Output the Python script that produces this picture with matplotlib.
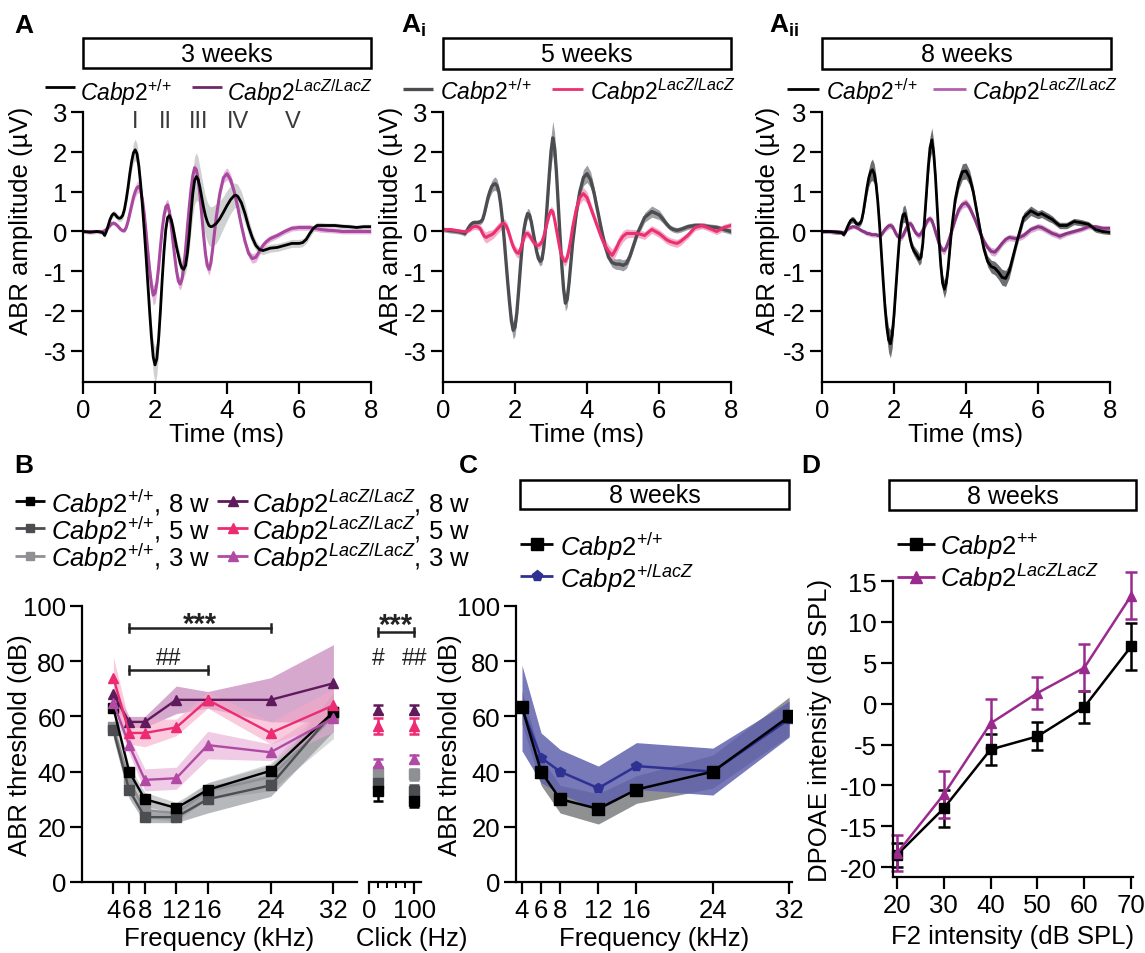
import numpy as np
import matplotlib
matplotlib.use('Agg')
import matplotlib.pyplot as plt
from matplotlib.patches import Rectangle

plt.rcParams['font.family'] = ['Liberation Sans', 'DejaVu Sans']
plt.rcParams['mathtext.fontset'] = 'custom'
plt.rcParams['mathtext.rm'] = 'Liberation Sans'
plt.rcParams['mathtext.it'] = 'Liberation Sans:italic'
plt.rcParams['mathtext.bf'] = 'Liberation Sans:bold'
plt.rcParams['axes.unicode_minus'] = False

# ---------------- ABR waveforms (µV) ----------------
t_ms = [0.0, 0.2, 0.4, 0.55,
        0.6, 0.65, 0.7, 0.75, 0.8, 0.85, 0.9, 0.95, 1.0, 1.05, 1.1, 1.15,
        1.2, 1.25, 1.3, 1.35, 1.4, 1.45, 1.5, 1.55, 1.6, 1.65, 1.7, 1.75,
        1.8, 1.85, 1.9, 1.95, 2.0, 2.05, 2.1, 2.15, 2.2, 2.25, 2.3, 2.35,
        2.4, 2.45, 2.5, 2.55, 2.6, 2.65, 2.7, 2.75, 2.8, 2.85, 2.9, 2.95,
        3.0, 3.05, 3.1, 3.15, 3.2, 3.25, 3.3, 3.35, 3.4, 3.45, 3.5, 3.55,
        3.6, 3.7, 3.8, 3.9, 4.0, 4.1, 4.2, 4.25,
        4.3, 4.4, 4.5, 4.6, 4.7, 4.8, 4.9, 5.0, 5.1, 5.2,
        5.4, 5.6, 5.8, 6.0, 6.1, 6.2, 6.3, 6.4, 6.5, 6.6,
        6.8, 7.0, 7.2, 7.4, 7.6, 7.8, 8.0]

# 3 weeks
wt3_mean = [0.0, -0.02, 0.0, -0.03,
            -0.1, 0.0, 0.15, 0.3, 0.4, 0.45, 0.42, 0.36, 0.33, 0.34, 0.4, 0.55,
            0.8, 1.1, 1.45, 1.75, 1.97, 2.05, 1.95, 1.65, 1.2, 0.65, 0.05, -0.6,
            -1.3, -2.0, -2.65, -3.15, -3.35, -3.2, -2.7, -2.0, -1.2, -0.5, 0.05, 0.35,
            0.4, 0.3, 0.1, -0.15, -0.4, -0.6, -0.8, -0.92, -0.95, -0.85, -0.55, -0.1,
            0.45, 0.95, 1.28, 1.38, 1.3, 1.1, 0.85, 0.6, 0.4, 0.25, 0.15, 0.12,
            0.13, 0.2, 0.32, 0.48, 0.65, 0.8, 0.9, 0.91,
            0.88, 0.72, 0.45, 0.12, -0.15, -0.35, -0.45, -0.48, -0.45, -0.42,
            -0.4, -0.35, -0.3, -0.3, -0.28, -0.2, -0.05, 0.08, 0.15, 0.15,
            0.15, 0.15, 0.13, 0.12, 0.1, 0.12, 0.12]
wt3_sem = [0.05, 0.05, 0.05, 0.05,
           0.06, 0.06, 0.07, 0.08, 0.08, 0.08, 0.08, 0.08, 0.08, 0.08, 0.1, 0.12,
           0.15, 0.18, 0.2, 0.22, 0.25, 0.27, 0.25, 0.22, 0.2, 0.2, 0.2, 0.22,
           0.25, 0.3, 0.35, 0.4, 0.45, 0.42, 0.35, 0.3, 0.22, 0.15, 0.12, 0.12,
           0.12, 0.12, 0.12, 0.15, 0.18, 0.2, 0.2, 0.2, 0.2, 0.2, 0.25, 0.35,
           0.45, 0.55, 0.6, 0.6, 0.55, 0.5, 0.5, 0.5, 0.5, 0.5, 0.5, 0.5,
           0.5, 0.5, 0.45, 0.4, 0.38, 0.35, 0.32, 0.3,
           0.3, 0.28, 0.25, 0.2, 0.15, 0.12, 0.1, 0.1, 0.1, 0.1,
           0.1, 0.1, 0.1, 0.1, 0.1, 0.1, 0.1, 0.08, 0.08, 0.08,
           0.06, 0.06, 0.06, 0.06, 0.06, 0.06, 0.06]
ko3_mean = [0.0, 0.0, 0.0, 0.0,
            0.02, 0.05, 0.1, 0.15, 0.2, 0.21, 0.19, 0.15, 0.1, 0.05, 0.02, 0.02,
            0.1, 0.25, 0.45, 0.65, 0.85, 1.0, 1.1, 1.13, 1.05, 0.8, 0.45, 0.0,
            -0.5, -0.95, -1.35, -1.6, -1.55, -1.3, -0.9, -0.4, 0.05, 0.4, 0.62, 0.67,
            0.5, 0.15, -0.25, -0.65, -1.0, -1.25, -1.32, -1.2, -0.9, -0.45, 0.1, 0.6,
            1.05, 1.4, 1.6, 1.55, 1.3, 0.9, 0.4, -0.1, -0.55, -0.85, -0.95, -0.8,
            -0.45, 0.35, 0.95, 1.35, 1.45, 1.3, 1.0, 0.8,
            0.6, 0.15, -0.25, -0.55, -0.68, -0.65, -0.5, -0.35, -0.25, -0.18,
            -0.1, 0.0, 0.08, 0.1, 0.1, 0.1, 0.1, 0.08, 0.07, 0.05,
            0.03, 0.02, 0.0, 0.0, 0.0, 0.0, 0.0]
ko3_sem = [0.04, 0.04, 0.04, 0.04,
           0.05, 0.05, 0.05, 0.05, 0.05, 0.05, 0.05, 0.05, 0.05, 0.05, 0.05, 0.05,
           0.06, 0.08, 0.1, 0.12, 0.13, 0.14, 0.15, 0.15, 0.14, 0.12, 0.12, 0.12,
           0.14, 0.18, 0.22, 0.25, 0.25, 0.22, 0.18, 0.14, 0.12, 0.12, 0.15, 0.15,
           0.15, 0.12, 0.12, 0.12, 0.14, 0.15, 0.15, 0.15, 0.12, 0.12, 0.12, 0.12,
           0.12, 0.12, 0.12, 0.12, 0.12, 0.12, 0.12, 0.12, 0.14, 0.15, 0.15, 0.15,
           0.12, 0.12, 0.12, 0.14, 0.15, 0.14, 0.12, 0.12,
           0.1, 0.1, 0.1, 0.1, 0.12, 0.12, 0.1, 0.1, 0.08, 0.08,
           0.07, 0.07, 0.07, 0.07, 0.07, 0.07, 0.07, 0.07, 0.07, 0.07,
           0.06, 0.06, 0.06, 0.06, 0.06, 0.06, 0.06]

# 5 weeks
wt5_mean = [0.05, 0.02, 0.0, -0.03,
            -0.05, 0.0, 0.08, 0.15, 0.2, 0.22, 0.22, 0.22, 0.23, 0.25, 0.3, 0.45,
            0.65, 0.85, 1.0, 1.12, 1.18, 1.2, 1.15, 1.0, 0.7, 0.3, -0.2, -0.75,
            -1.3, -1.8, -2.25, -2.48, -2.4, -2.05, -1.5, -0.9, -0.35, 0.05, 0.3, 0.45,
            0.42, 0.25, 0.0, -0.25, -0.5, -0.68, -0.75, -0.7, -0.4, 0.1, 0.75, 1.4,
            2.0, 2.35, 2.1, 1.5, 0.7, -0.1, -0.85, -1.45, -1.8, -1.7, -1.3, -0.8,
            -0.3, 0.45, 1.0, 1.35, 1.45, 1.3, 0.95, 0.72,
            0.5, 0.05, -0.35, -0.65, -0.78, -0.82, -0.82, -0.85, -0.8, -0.6,
            -0.05, 0.35, 0.5, 0.42, 0.32, 0.2, 0.1, 0.05, 0.03, 0.05,
            0.12, 0.15, 0.15, 0.12, 0.1, 0.05, 0.0]
wt5_sem = [0.06, 0.06, 0.06, 0.06,
           0.07, 0.07, 0.07, 0.07, 0.07, 0.07, 0.07, 0.07, 0.07, 0.07, 0.07, 0.07,
           0.1, 0.12, 0.14, 0.15, 0.16, 0.17, 0.16, 0.14, 0.12, 0.12, 0.12, 0.14,
           0.15, 0.17, 0.2, 0.22, 0.22, 0.2, 0.16, 0.13, 0.12, 0.12, 0.12, 0.13,
           0.13, 0.12, 0.1, 0.1, 0.1, 0.12, 0.12, 0.12, 0.12, 0.15, 0.2, 0.3,
           0.38, 0.42, 0.38, 0.3, 0.22, 0.15, 0.15, 0.17, 0.2, 0.2, 0.18, 0.15,
           0.12, 0.15, 0.18, 0.2, 0.22, 0.2, 0.16, 0.14,
           0.12, 0.1, 0.1, 0.1, 0.12, 0.13, 0.14, 0.14, 0.12, 0.1,
           0.1, 0.12, 0.14, 0.12, 0.1, 0.08, 0.07, 0.07, 0.07, 0.07,
           0.07, 0.07, 0.07, 0.07, 0.07, 0.07, 0.07]
ko5_mean = [0.05, 0.05, 0.02, 0.0,
            0.0, 0.0, 0.02, 0.05, 0.1, 0.12, 0.13, 0.12, 0.1, 0.05, -0.05, -0.12,
            -0.15, -0.12, -0.1, -0.08, -0.05, 0.0, 0.05, 0.1, 0.15, 0.2, 0.2, 0.15,
            0.05, -0.1, -0.25, -0.38, -0.47, -0.53, -0.55, -0.45, -0.3, -0.15, -0.06, -0.05,
            -0.1, -0.17, -0.25, -0.3, -0.35, -0.35, -0.32, -0.25, -0.12, 0.05, 0.25, 0.42,
            0.53, 0.5, 0.3, 0.05, -0.2, -0.45, -0.62, -0.72, -0.75, -0.65, -0.45, -0.2,
            0.1, 0.55, 0.85, 0.95, 0.85, 0.6, 0.35, 0.22,
            0.1, -0.15, -0.35, -0.5, -0.6, -0.45, -0.25, -0.12, -0.05, -0.05,
            -0.05, -0.1, 0.05, -0.05, -0.12, -0.2, -0.25, -0.28, -0.3, -0.25,
            -0.1, 0.1, 0.15, 0.08, 0.0, 0.1, 0.15]
ko5_sem = [0.05, 0.05, 0.05, 0.05,
           0.05, 0.05, 0.05, 0.06, 0.07, 0.08, 0.08, 0.08, 0.08, 0.1, 0.12, 0.13,
           0.14, 0.14, 0.13, 0.12, 0.12, 0.12, 0.12, 0.12, 0.12, 0.12, 0.12, 0.12,
           0.12, 0.12, 0.12, 0.12, 0.12, 0.12, 0.12, 0.12, 0.1, 0.1, 0.1, 0.1,
           0.1, 0.1, 0.1, 0.1, 0.1, 0.1, 0.1, 0.1, 0.1, 0.1, 0.1, 0.1,
           0.1, 0.1, 0.1, 0.1, 0.1, 0.1, 0.1, 0.12, 0.12, 0.12, 0.12, 0.12,
           0.12, 0.14, 0.15, 0.15, 0.15, 0.14, 0.12, 0.12,
           0.12, 0.14, 0.16, 0.16, 0.16, 0.15, 0.15, 0.14, 0.12, 0.1,
           0.1, 0.1, 0.1, 0.1, 0.1, 0.1, 0.1, 0.1, 0.1, 0.1,
           0.08, 0.08, 0.08, 0.08, 0.08, 0.08, 0.08]

# 8 weeks
wt8_mean = [0.0, 0.0, -0.02, -0.03,
            -0.08, -0.02, 0.1, 0.2, 0.28, 0.3, 0.27, 0.2, 0.18, 0.2, 0.28, 0.5,
            0.8, 1.1, 1.35, 1.5, 1.55, 1.45, 1.2, 0.75, 0.15, -0.55, -1.25, -1.9,
            -2.4, -2.72, -2.82, -2.6, -2.1, -1.45, -0.8, -0.2, 0.2, 0.42, 0.45, 0.3,
            0.05, -0.2, -0.38, -0.48, -0.55, -0.62, -0.7, -0.65, -0.3, 0.3, 0.95, 1.6,
            2.1, 2.3, 2.0, 1.4, 0.6, -0.2, -0.85, -1.3, -1.45, -1.3, -0.95, -0.45,
            0.05, 0.8, 1.25, 1.5, 1.52, 1.35, 1.0, 0.75,
            0.5, 0.0, -0.45, -0.75, -0.88, -0.92, -1.02, -1.15, -1.18, -1.0,
            -0.3, 0.35, 0.52, 0.42, 0.45, 0.4, 0.35, 0.3, 0.22, 0.15,
            0.15, 0.25, 0.22, 0.18, 0.05, 0.0, -0.02]
wt8_sem = [0.05, 0.05, 0.05, 0.05,
           0.05, 0.05, 0.06, 0.07, 0.08, 0.08, 0.08, 0.07, 0.07, 0.07, 0.08, 0.1,
           0.14, 0.18, 0.22, 0.25, 0.27, 0.25, 0.22, 0.18, 0.16, 0.16, 0.18, 0.22,
           0.28, 0.32, 0.35, 0.32, 0.25, 0.2, 0.17, 0.16, 0.17, 0.2, 0.22, 0.2,
           0.16, 0.13, 0.12, 0.12, 0.13, 0.14, 0.15, 0.14, 0.13, 0.15, 0.2, 0.25,
           0.28, 0.3, 0.28, 0.22, 0.17, 0.15, 0.17, 0.2, 0.22, 0.2, 0.17, 0.14,
           0.12, 0.15, 0.18, 0.2, 0.2, 0.18, 0.15, 0.14,
           0.13, 0.12, 0.12, 0.14, 0.16, 0.17, 0.18, 0.2, 0.2, 0.17,
           0.12, 0.12, 0.12, 0.1, 0.1, 0.1, 0.1, 0.09, 0.08, 0.08,
           0.08, 0.08, 0.08, 0.07, 0.07, 0.06, 0.06]
ko8_mean = [0.0, 0.0, 0.0, -0.02,
            -0.03, 0.0, 0.05, 0.08, 0.1, 0.12, 0.12, 0.1, 0.08, 0.05, 0.02, 0.0,
            -0.02, -0.05, -0.05, -0.07, -0.08, -0.08, -0.08, -0.1, -0.1, -0.08, -0.02, 0.05,
            0.1, 0.14, 0.15, 0.13, 0.05, -0.05, -0.12, -0.15, -0.15, -0.1, 0.0, 0.1,
            0.17, 0.2, 0.15, 0.05, -0.03, -0.08, -0.1, -0.05, 0.03, 0.12, 0.22, 0.3,
            0.32, 0.28, 0.15, 0.0, -0.15, -0.3, -0.4, -0.47, -0.48, -0.4, -0.28, -0.15,
            0.0, 0.3, 0.55, 0.68, 0.72, 0.6, 0.4, 0.3,
            0.18, -0.05, -0.25, -0.4, -0.5, -0.52, -0.42, -0.3, -0.2, -0.15,
            -0.18, -0.1, 0.05, 0.12, 0.1, 0.05, 0.0, -0.05, -0.08, -0.12,
            -0.05, 0.0, 0.05, 0.12, 0.12, 0.08, 0.08]
ko8_sem = [0.05] * 4 + [0.05] * 12 + [0.06] * 12 + [0.08] * 12 + [0.08] * 12 + \
          [0.08, 0.08, 0.08, 0.08, 0.08, 0.08, 0.08, 0.09, 0.1, 0.09, 0.08, 0.08] + \
          [0.08, 0.09, 0.1, 0.1, 0.1, 0.1, 0.09, 0.08] + \
          [0.08, 0.08, 0.08, 0.09, 0.1, 0.1, 0.09, 0.08, 0.08, 0.08] + \
          [0.08] * 10 + [0.06] * 7

wave_labels = ['I', 'II', 'III', 'IV', 'V']
wave_times = [1.44, 2.3, 3.2, 4.3, 5.83]

# ---------------- Thresholds (dB) ----------------
freqs = [4, 6, 8, 12, 16, 24, 32]
thr_wt8 = [63, 40, 30, 26.8, 33.4, 40.3, 61.6]
thr_wt8_sem = [2, 2, 2.5, 2, 2.5, 2, 3]
thr_wt5 = [55, 33.3, 23.5, 23.5, 30, 35, 61.6]
thr_wt5_sem = [3, 3, 2, 2, 5, 4, 7]
thr_wt3 = [56, 37, 26, 25, 33, 38, 60]
thr_wt3_sem = [3, 3, 3, 3, 3, 5, 8]
thr_ko8 = [68, 58, 58, 66, 66, 66, 72]
thr_ko8_sem = [3, 2, 2, 5, 3, 8, 14]
thr_ko5 = [74, 54, 54, 56, 66, 54, 64]
thr_ko5_sem = [7.5, 4, 5, 3, 3, 4, 6]
thr_ko3 = [65, 49.6, 37, 37.6, 49.6, 47, 59.4]
thr_ko3_sem = [3, 3, 4, 4, 5, 3, 5]

click_rate = [20, 100]
click_wt8 = [33, 29.5]
click_wt8_sem = [3.5, 2.3]
click_wt5 = [36, 33]
click_wt5_sem = [2, 2]
click_wt3 = [39.5, 39]
click_wt3_sem = [2, 2]
click_ko8 = [62.5, 62.5]
click_ko8_sem = [1.8, 1.8]
click_ko5 = [56.5, 56.5]
click_ko5_sem = [3, 3]
click_ko3 = [43.2, 44.6]
click_ko3_sem = [1.5, 1.5]

# heterozygous comparison, 8 weeks
thr_c_wt = [63.3, 40, 30, 26.5, 33.5, 40, 60]
thr_c_wt_sem = [6, 5, 5, 5.5, 5, 6, 7]
thr_c_het = [63, 45, 40, 34, 42, 40, 59]
thr_c_het_sem = [15.5, 9, 8, 8, 8.5, 8.5, 6.5]

# ---------------- DPOAE ----------------
f2_level = [20, 30, 40, 50, 60, 70]
dp_wt = [-18.5, -12.8, -5.6, -4.0, -0.4, 7.0]
dp_wt_sem = [1.5, 2.3, 1.9, 1.7, 2.0, 2.9]
dp_ko = [-18.3, -11.1, -2.4, 1.3, 4.4, 13.2]
dp_ko_sem = [2.2, 2.9, 3.0, 2.0, 2.9, 2.9]

# ---------------- figure ----------------
W, H = 1145, 954
fig = plt.figure(figsize=(W / 100, H / 100), dpi=100)
FS = 18.5


def px_axes(l, t, r, b):
    return fig.add_axes([l / W, 1 - b / H, (r - l) / W, (b - t) / H])


def style(ax):
    for s in ['top', 'right']:
        ax.spines[s].set_visible(False)
    for s in ['left', 'bottom']:
        ax.spines[s].set_linewidth(1.6)
    ax.tick_params(width=1.6, length=8.5, labelsize=FS, pad=3)
    ax.patch.set_visible(False)


def band(ax, mean, sem, color, alpha=1.0):
    m = np.array(mean)
    s = np.array(sem)
    ax.fill_between(t_ms, m - s, m + s, color=color, lw=0, alpha=alpha)


abr_axes = []
for (l, r, ylx) in [(83, 371, -0.175), (443, 731, -0.14), (822, 1110, -0.146)]:
    ax = px_axes(l, 113, r, 383)
    style(ax)
    ax.set_xlim(0, 8)
    ax.set_ylim(-3.78, 3)
    ax.set_xticks([0, 2, 4, 6, 8])
    ax.set_yticks([-3, -2, -1, 0, 1, 2, 3])
    ax.set_xlabel('Time (ms)', fontsize=FS)
    ax.xaxis.set_label_coords(0.5, -0.15)
    ax.set_ylabel('ABR amplitude (µV)', fontsize=FS)
    ax.yaxis.set_label_coords(ylx, 0.6)
    abr_axes.append(ax)

# A: 3 weeks
ax = abr_axes[0]
band(ax, wt3_mean, wt3_sem, '#cfd0d0')
band(ax, ko3_mean, ko3_sem, '#e3a9d9', 0.85)
ax.plot(t_ms, ko3_mean, color='#a8489f', lw=2.2)
ax.plot(t_ms, wt3_mean, color='black', lw=2.0)
for lab, tt in zip(wave_labels, wave_times):
    ax.text(tt, 2.77, lab, ha='center', va='center', fontsize=17, color='#3a3a3a')

# Ai: 5 weeks
ax = abr_axes[1]
band(ax, wt5_mean, wt5_sem, '#9d9fa2')
band(ax, ko5_mean, ko5_sem, '#f4a0bf', 0.85)
ax.plot(t_ms, wt5_mean, color='#4b4d51', lw=2.4)
ax.plot(t_ms, ko5_mean, color='#ec2f70', lw=2.2)

# Aii: 8 weeks
ax = abr_axes[2]
band(ax, wt8_mean, wt8_sem, '#6d6e71')
band(ax, ko8_mean, ko8_sem, '#d59fcd', 0.85)
ax.plot(t_ms, ko8_mean, color='#8c3686', lw=2.2)
ax.plot(t_ms, wt8_mean, color='black', lw=2.0)

# B: thresholds across ages
axB = px_axes(82, 607, 357, 883)
style(axB)
axB.set_xlim(0, 35)
axB.set_ylim(0, 100)
axB.set_xticks(freqs)
axB.set_yticks([0, 20, 40, 60, 80, 100])
axB.set_xlabel('Frequency (kHz)', fontsize=FS)
axB.xaxis.set_label_coords(0.5, -0.158)
axB.set_ylabel('ABR threshold (dB)', fontsize=FS)
axB.yaxis.set_label_coords(-0.182, 0.5)

series_B = [
    (thr_wt3, thr_wt3_sem, '#8e9093', '#cfd0d2', 0.8, 's', 6.5),
    (thr_wt5, thr_wt5_sem, '#4b4d51', '#7d7f83', 0.55, 's', 6.5),
    (thr_wt8, thr_wt8_sem, '#000000', '#9fa1a4', 0.5, 's', 6.5),
    (thr_ko8, thr_ko8_sem, '#5e1a5b', '#c98bbd', 0.75, '^', 7.5),
    (thr_ko3, thr_ko3_sem, '#b14aa5', '#e7a9d6', 0.6, '^', 7.5),
    (thr_ko5, thr_ko5_sem, '#ec2b72', '#f5a9c7', 0.6, '^', 7.5),
]
for m, s, col, bcol, a, mk, ms in series_B:
    m = np.array(m)
    s = np.array(s)
    axB.fill_between(freqs, m - s, m + s, color=bcol, alpha=a, lw=0)
for m, s, col, bcol, a, mk, ms in series_B:
    axB.plot(freqs, m, color=col, marker=mk, ms=ms, mec=col, lw=1.7)

SIG = '#222222'


def sig_bar(ax, x0, x1, y):
    ax.plot([x0, x1], [y, y], color=SIG, lw=1.8, clip_on=False)
    for xx in (x0, x1):
        ax.plot([xx, xx], [y - 1.3, y + 1.3], color=SIG, lw=1.8, clip_on=False)


def stars(ax, x, y_center):
    # asterisks sit high in the em box; anchor the baseline below the glyph centre
    ax.text(x, y_center - 5.8, '***', ha='center', va='baseline', fontsize=21,
            fontweight='bold', color=SIG, clip_on=False)


def hashes(ax, x, y, txt):
    ax.text(x, y, txt, ha='center', va='center', fontsize=16.5, color=SIG)


sig_bar(axB, 6, 24, 92)
stars(axB, 15, 96.4)
sig_bar(axB, 6, 16, 76.8)
hashes(axB, 11, 81.2, '##')

# B: click stimuli
axK = px_axes(369, 607, 421, 883)
for s in ['top', 'right', 'left']:
    axK.spines[s].set_visible(False)
axK.spines['bottom'].set_linewidth(1.6)
axK.patch.set_visible(False)
axK.set_xlim(0, 115)
axK.set_ylim(0, 100)
axK.set_yticks([])
axK.set_xticks([0, 100])
axK.set_xticks([20, 40, 60, 80], minor=True)
axK.tick_params(axis='x', which='major', width=1.6, length=8.5, labelsize=FS, pad=3)
axK.tick_params(axis='x', which='minor', width=1.4, length=4.5)
axK.set_xlabel('Click (Hz)', fontsize=FS)
axK.xaxis.set_label_coords(0.83, -0.158)
click_series = [
    (click_wt3, click_wt3_sem, '#8e9093', 's', 6.5),
    (click_wt5, click_wt5_sem, '#4b4d51', 's', 6.5),
    (click_wt8, click_wt8_sem, '#000000', 's', 6.5),
    (click_ko3, click_ko3_sem, '#b14aa5', '^', 7.5),
    (click_ko5, click_ko5_sem, '#ec2b72', '^', 7.5),
    (click_ko8, click_ko8_sem, '#5e1a5b', '^', 7.5),
]
for m, s, col, mk, ms in click_series:
    axK.errorbar(click_rate, m, yerr=s, fmt=mk, color=col, ms=ms, mec=col,
                 elinewidth=1.8, capsize=3.5, capthick=1.8, ls='none', clip_on=False)
sig_bar(axK, click_rate[0], click_rate[1], 90.6)
stars(axK, (click_rate[0] + click_rate[1]) / 2, 96.2)
hashes(axK, click_rate[0], 81.3, '#')
hashes(axK, click_rate[1], 81.3, '##')

# C: heterozygous, 8 weeks
axC = px_axes(516, 607, 792, 883)
style(axC)
axC.set_xlim(3.37, 32.3)
axC.set_ylim(0, 100)
axC.set_xticks(freqs)
axC.set_yticks([0, 20, 40, 60, 80, 100])
axC.set_xlabel('Frequency (kHz)', fontsize=FS)
axC.xaxis.set_label_coords(0.5, -0.158)
axC.set_ylabel('ABR threshold (dB)', fontsize=FS)
axC.yaxis.set_label_coords(-0.196, 0.5)
cw = np.array(thr_c_wt)
cws = np.array(thr_c_wt_sem)
ch = np.array(thr_c_het)
chs = np.array(thr_c_het_sem)
axC.fill_between(freqs, cw - cws, cw + cws, color='#8f9092', lw=0)
axC.fill_between(freqs, ch - chs, ch + chs, color='#5f62ad', alpha=0.85, lw=0)
axC.plot(freqs, ch, color='#2e3192', marker='p', ms=7.5, mec='#2e3192', lw=1.8)
axC.plot(freqs, cw, color='black', marker='s', ms=8.5, lw=1.8)

# D: DPOAE
axD = px_axes(893, 582, 1133, 878)
style(axD)
axD.set_xlim(19.15, 70.4)
axD.set_ylim(-21.2, 15)
axD.set_xticks(f2_level)
axD.set_yticks([15, 10, 5, 0, -5, -10, -15, -20])
axD.set_xlabel('F2 intensity (dB SPL)', fontsize=FS)
axD.xaxis.set_label_coords(0.5, -0.16)
axD.set_ylabel('DPOAE intensity (dB SPL)', fontsize=FS)
axD.yaxis.set_label_coords(-0.254, 0.5)
axD.errorbar(f2_level, dp_wt, yerr=dp_wt_sem, color='black', marker='s', ms=7,
             lw=1.8, elinewidth=1.8, capsize=4, capthick=1.8, clip_on=False)
axD.errorbar(f2_level, dp_ko, yerr=dp_ko_sem, color='#9b2a8e', marker='^', ms=7.5,
             lw=1.8, elinewidth=1.8, capsize=4, capthick=1.8, clip_on=False)

# ---------------- annotations layer (pixel coordinates) ----------------
ov = fig.add_axes([0, 0, 1, 1])
ov.set_xlim(0, W)
ov.set_ylim(H, 0)
ov.axis('off')


def title_box(l, t, r, b, txt):
    ov.add_patch(Rectangle((l, t), r - l, b - t, fill=False, lw=1.8, ec='black'))
    ov.text((l + r) / 2, (t + b) / 2 + 1, txt, ha='center', va='center', fontsize=18)


title_box(83, 39, 371, 69, '3 weeks')
title_box(443, 39, 731, 70, '5 weeks')
title_box(822, 39, 1111, 70, '8 weeks')
title_box(520, 481, 789, 510, '8 weeks')
title_box(889, 481, 1136, 511, '8 weeks')


def genotype(sup, font='mathrm'):
    return r'$\mathit{Cabp2}^{\%s{%s}}$' % (font, sup)


WT_LAB = genotype('+/{+}')
KO_LAB = genotype('LacZ/LacZ', 'mathit')


def leg(x0, x1, y, col, txt, tx, ty, fs, marker=None, ms=7, lw=2.0):
    ov.plot([x0, x1], [y, y], color=col, lw=lw, solid_capstyle='butt')
    if marker:
        ov.plot([(x0 + x1) / 2], [y], marker=marker, color=col, ms=ms, mec=col)
    ov.text(tx, ty, txt, fontsize=fs, ha='left', va='baseline')


LFS = 16.5
leg(45, 75, 88, 'black', WT_LAB, 80, 101, LFS)
leg(192, 222, 88, '#6c2a6a', KO_LAB, 227, 101, LFS)
leg(403, 433, 90, '#4b4d51', WT_LAB, 440, 100, LFS, lw=2.4)
leg(552, 583, 90, '#ec2f70', KO_LAB, 590, 100, LFS)
leg(787, 819, 90, 'black', WT_LAB, 826, 100, LFS)
leg(933, 966, 90, '#b35fab', KO_LAB, 972, 100, LFS)

BFS = 18.5
leg(15, 45, 502, '#000000', WT_LAB + ', 8 w', 51, 513, BFS, 's', 6)
leg(15, 45, 529, '#4b4d51', WT_LAB + ', 5 w', 51, 540, BFS, 's', 6)
leg(15, 45, 557, '#8e9093', WT_LAB + ', 3 w', 51, 567, BFS, 's', 6)
leg(217, 248, 502, '#5e1a5b', KO_LAB + ', 8 w', 252, 513, BFS, '^', 7)
leg(217, 248, 529, '#ec2b72', KO_LAB + ', 5 w', 252, 540, BFS, '^', 7)
leg(217, 248, 557, '#b14aa5', KO_LAB + ', 3 w', 252, 567, BFS, '^', 7)

leg(520, 553, 545, 'black', WT_LAB, 560, 556, BFS, 's', 9)
leg(520, 553, 577, '#2e3192', genotype('+/LacZ', 'mathit'), 560, 588, BFS, 'p', 8)

leg(897, 935, 545, 'black', genotype('+{+}'), 940, 556, BFS, 's', 9)
leg(897, 935, 578, '#9b2a8e', genotype('LacZLacZ', 'mathit'), 940, 588, BFS, '^', 9)

PFS = 19
ov.text(14, 33, 'A', fontsize=PFS, fontweight='bold', va='baseline')
ov.text(401, 33, r'$\mathbf{A}_{\mathbf{i}}$', fontsize=PFS, va='baseline')
ov.text(769, 33, r'$\mathbf{A}_{\mathbf{ii}}$', fontsize=PFS, va='baseline')
ov.text(14, 473, 'B', fontsize=PFS, fontweight='bold', va='baseline')
ov.text(459, 473, 'C', fontsize=PFS, fontweight='bold', va='baseline')
ov.text(801, 473, 'D', fontsize=PFS, fontweight='bold', va='baseline')

fig.savefig('out.png', dpi=100)
